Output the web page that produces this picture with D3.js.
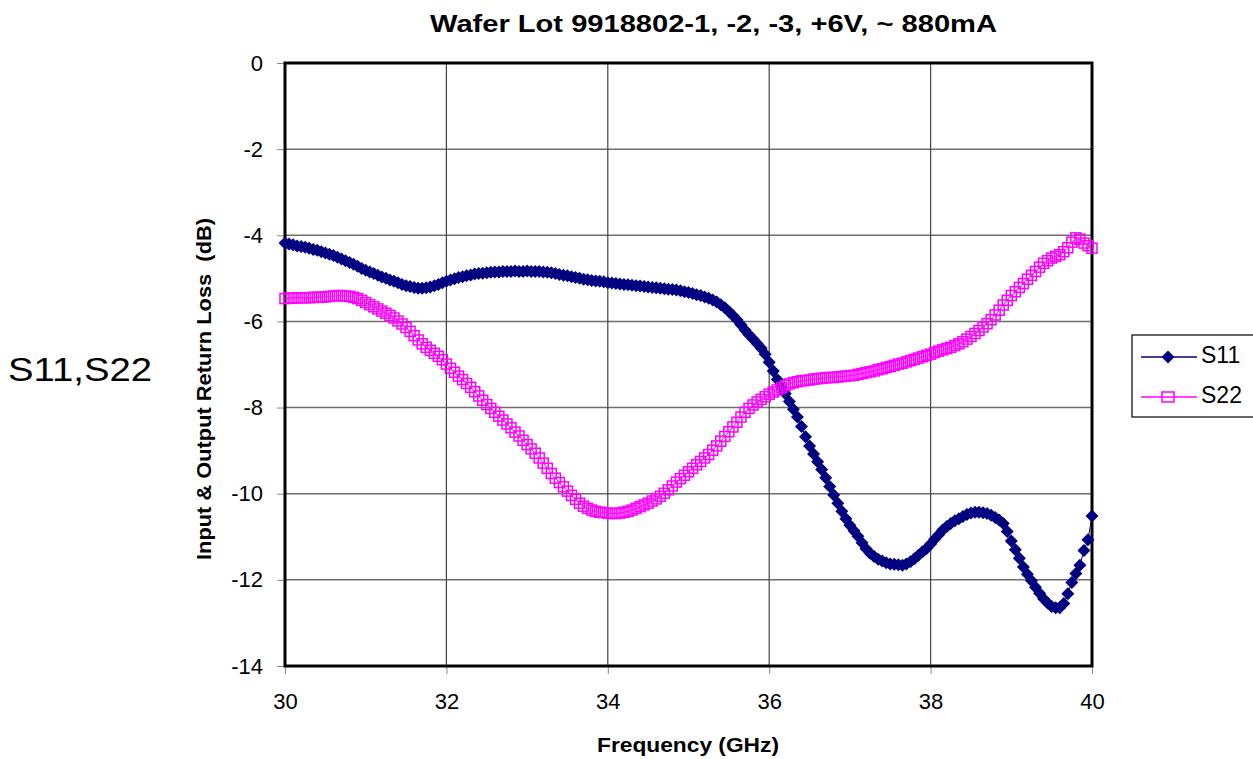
<!DOCTYPE html>
<html>
<head>
<meta charset="utf-8">
<script src="https://cdn.jsdelivr.net/npm/d3@7"></script>
<style>
  body { margin: 0; background: #fff; }
  svg text { font-family: Arial, "Liberation Sans", sans-serif; }
</style>
</head>
<body>
<script>
// frequency sweep 30..40 GHz, 0.05 GHz step (201 points)
const freqStart = 30, freqStep = 0.05
const freqs = d3.range(201).map(i => +(freqStart + i * freqStep).toFixed(2))

// one row per GHz (20 points each), last value at 40 GHz
const s11 = [
  -4.18,-4.20,-4.22,-4.25,-4.26,-4.28,-4.30,-4.33,-4.35,-4.38,-4.41,-4.44,-4.47,-4.51,-4.55,-4.59,-4.63,-4.67,-4.72,-4.77,
  -4.81,-4.85,-4.89,-4.93,-4.97,-5.00,-5.04,-5.07,-5.10,-5.14,-5.17,-5.19,-5.21,-5.23,-5.23,-5.22,-5.20,-5.17,-5.14,-5.10,
  -5.07,-5.04,-5.01,-4.98,-4.96,-4.94,-4.92,-4.90,-4.89,-4.88,-4.87,-4.86,-4.85,-4.85,-4.84,-4.84,-4.84,-4.83,-4.84,-4.84,
  -4.83,-4.84,-4.84,-4.84,-4.85,-4.86,-4.87,-4.89,-4.91,-4.93,-4.94,-4.96,-4.98,-5.00,-5.02,-5.03,-5.05,-5.06,-5.07,-5.08,
  -5.10,-5.11,-5.12,-5.13,-5.14,-5.15,-5.16,-5.17,-5.18,-5.19,-5.20,-5.21,-5.22,-5.23,-5.24,-5.25,-5.26,-5.27,-5.29,-5.31,
  -5.33,-5.35,-5.38,-5.40,-5.43,-5.46,-5.50,-5.55,-5.61,-5.68,-5.77,-5.86,-5.96,-6.08,-6.20,-6.31,-6.41,-6.51,-6.62,-6.76,
  -6.95,-7.15,-7.35,-7.52,-7.68,-7.86,-8.04,-8.22,-8.44,-8.68,-8.89,-9.08,-9.26,-9.44,-9.63,-9.83,-10.03,-10.22,-10.41,-10.58,
  -10.73,-10.86,-10.99,-11.14,-11.28,-11.38,-11.46,-11.52,-11.56,-11.60,-11.63,-11.64,-11.65,-11.66,-11.63,-11.58,-11.51,-11.43,-11.35,-11.27,
  -11.17,-11.06,-10.95,-10.84,-10.76,-10.69,-10.63,-10.58,-10.53,-10.48,-10.45,-10.43,-10.43,-10.44,-10.46,-10.50,-10.55,-10.61,-10.69,-10.88,
  -11.10,-11.30,-11.50,-11.70,-11.87,-12.02,-12.17,-12.31,-12.44,-12.54,-12.62,-12.65,-12.65,-12.55,-12.32,-12.06,-11.85,-11.66,-11.32,-11.07,
  -10.52
]
const s22 = [
  -5.47,-5.46,-5.46,-5.45,-5.45,-5.45,-5.45,-5.44,-5.44,-5.44,-5.43,-5.42,-5.41,-5.40,-5.40,-5.41,-5.42,-5.44,-5.47,-5.51,
  -5.56,-5.61,-5.66,-5.71,-5.76,-5.81,-5.86,-5.92,-5.99,-6.06,-6.14,-6.23,-6.33,-6.43,-6.52,-6.60,-6.67,-6.74,-6.81,-6.89,
  -6.99,-7.09,-7.18,-7.27,-7.35,-7.44,-7.53,-7.63,-7.73,-7.83,-7.93,-8.02,-8.11,-8.20,-8.29,-8.38,-8.47,-8.57,-8.66,-8.76,
  -8.86,-8.96,-9.06,-9.17,-9.29,-9.41,-9.53,-9.64,-9.74,-9.84,-9.94,-10.04,-10.13,-10.22,-10.29,-10.34,-10.38,-10.41,-10.43,-10.44,
  -10.45,-10.46,-10.46,-10.45,-10.43,-10.41,-10.38,-10.34,-10.30,-10.26,-10.22,-10.17,-10.12,-10.06,-9.99,-9.91,-9.82,-9.73,-9.65,-9.57,
  -9.49,-9.41,-9.33,-9.25,-9.17,-9.09,-8.99,-8.89,-8.78,-8.67,-8.56,-8.45,-8.34,-8.22,-8.11,-8.02,-7.94,-7.87,-7.81,-7.75,
  -7.69,-7.64,-7.59,-7.54,-7.49,-7.45,-7.42,-7.40,-7.38,-7.37,-7.36,-7.34,-7.33,-7.32,-7.31,-7.30,-7.30,-7.29,-7.28,-7.27,
  -7.26,-7.25,-7.23,-7.21,-7.19,-7.17,-7.15,-7.12,-7.10,-7.07,-7.05,-7.02,-6.99,-6.97,-6.94,-6.91,-6.88,-6.85,-6.82,-6.79,
  -6.76,-6.72,-6.69,-6.66,-6.63,-6.60,-6.56,-6.52,-6.47,-6.41,-6.35,-6.28,-6.21,-6.13,-6.05,-5.96,-5.85,-5.74,-5.62,-5.51,
  -5.40,-5.31,-5.21,-5.12,-5.02,-4.93,-4.84,-4.74,-4.65,-4.59,-4.53,-4.49,-4.45,-4.38,-4.29,-4.16,-4.06,-4.09,-4.18,-4.24,
  -4.30
]

const xTicks = [30, 32, 34, 36, 38, 40]
const yTicks = [0, -2, -4, -6, -8, -10, -12, -14]
const seriesNames = ['S11', 'S22']

const W = 1253, H = 759
const mLeft = 285, mRight = 1092, mTop = 63, mBottom = 666

const svg = d3.select('body').append('svg')
  .attr('width', W)
  .attr('height', H)

const x = d3.scaleLinear().domain([30, 40]).range([mLeft, mRight])
const y = d3.scaleLinear().domain([-14, 0]).range([mBottom, mTop])

// grid
svg.append('g')
  .selectAll('line')
  .data(yTicks.slice(1, -1))
  .enter().append('line')
  .attr('x1', mLeft).attr('x2', mRight)
  .attr('y1', d => y(d)).attr('y2', d => y(d))
  .attr('stroke', '#6e6e6e')
  .attr('stroke-width', 1.5)

svg.append('g')
  .selectAll('line')
  .data(xTicks.slice(1, -1))
  .enter().append('line')
  .attr('y1', mTop).attr('y2', mBottom)
  .attr('x1', d => x(d)).attr('x2', d => x(d))
  .attr('stroke', '#444')
  .attr('stroke-width', 1.2)

// axes (plain hyphen for negatives, like the original)
const yAxis = d3.axisLeft(y).tickValues(yTicks).tickSize(8).tickPadding(14).tickFormat(d => String(d))
const xAxis = d3.axisBottom(x).tickValues(xTicks).tickSize(8).tickPadding(19).tickFormat(d => String(d))

const gy = svg.append('g').attr('transform', 'translate(' + mLeft + ',0)').call(yAxis)
const gx = svg.append('g').attr('transform', 'translate(0,' + mBottom + ')').call(xAxis)
gy.select('.domain').remove()
gx.select('.domain').remove()
gy.selectAll('.tick line').attr('stroke', '#888')
gx.selectAll('.tick line').attr('stroke', '#888')
gy.selectAll('text').style('font-size', '22px').attr('fill', '#000').attr('font-family', 'Arial, Liberation Sans')
gx.selectAll('text').style('font-size', '22px').attr('fill', '#000').attr('font-family', 'Arial, Liberation Sans')

// plot frame
svg.append('rect')
  .attr('x', mLeft).attr('y', mTop)
  .attr('width', mRight - mLeft).attr('height', mBottom - mTop)
  .attr('fill', 'none')
  .attr('stroke', '#000')
  .attr('stroke-width', 3)

// series
const diamond = r => 'M0,' + (-r) + 'L' + r + ',0L0,' + r + 'L' + (-r) + ',0Z'
const line = d3.line()

const pts11 = freqs.map((f, i) => [x(f), y(s11[i])])
const pts22 = freqs.map((f, i) => [x(f), y(s22[i])])

svg.append('path')
  .attr('d', line(pts11))
  .attr('fill', 'none')
  .attr('stroke', '#000080')
  .attr('stroke-width', 1)

svg.append('g')
  .selectAll('path')
  .data(pts11)
  .enter().append('path')
  .attr('transform', d => 'translate(' + d[0] + ',' + d[1] + ')')
  .attr('d', diamond(6.5))
  .attr('fill', '#000080')

svg.append('path')
  .attr('d', line(pts22))
  .attr('fill', 'none')
  .attr('stroke', '#ff00ff')
  .attr('stroke-width', 1)

svg.append('g')
  .selectAll('rect')
  .data(pts22)
  .enter().append('rect')
  .attr('x', d => d[0] - 5)
  .attr('y', d => d[1] - 5)
  .attr('width', 10)
  .attr('height', 10)
  .attr('fill', 'none')
  .attr('stroke', '#ff00ff')
  .attr('stroke-width', 1.5)

// titles
svg.append('text')
  .attr('x', 430).attr('y', 32)
  .attr('textLength', 567)
  .attr('lengthAdjust', 'spacingAndGlyphs')
  .style('font-size', '24px')
  .style('font-weight', 'bold')
  .text('Wafer Lot 9918802-1, -2, -3, +6V, ~ 880mA')

svg.append('text')
  .attr('x', 597).attr('y', 752)
  .attr('textLength', 182)
  .attr('lengthAdjust', 'spacingAndGlyphs')
  .style('font-size', '20px')
  .style('font-weight', 'bold')
  .text('Frequency (GHz)')

svg.append('text')
  .attr('transform', 'translate(211,560) rotate(-90)')
  .attr('textLength', 342)
  .attr('lengthAdjust', 'spacingAndGlyphs')
  .style('font-size', '20px')
  .style('font-weight', 'bold')
  .style('white-space', 'pre')
  .text('Input & Output Return Loss  (dB)')

svg.append('text')
  .attr('x', 8).attr('y', 381)
  .attr('textLength', 144)
  .attr('lengthAdjust', 'spacingAndGlyphs')
  .style('font-size', '34px')
  .text('S11,S22')

// legend
const legend = svg.append('g')
legend.append('rect')
  .attr('x', 1132).attr('y', 335)
  .attr('width', 130).attr('height', 82)
  .attr('fill', '#fff')
  .attr('stroke', '#000')
  .attr('stroke-width', 1.2)

seriesNames.forEach((name, i) => {
  const ly = 357 + i * 40
  const col = i == 0 ? '#000080' : '#ff00ff'
  legend.append('line')
    .attr('x1', 1141).attr('x2', 1197)
    .attr('y1', ly).attr('y2', ly)
    .attr('stroke', col).attr('stroke-width', 1.5)
  if (i == 0) {
    legend.append('path')
      .attr('transform', 'translate(1168,' + ly + ')')
      .attr('d', diamond(6.5))
      .attr('fill', col)
  } else {
    legend.append('rect')
      .attr('x', 1162).attr('y', ly - 5)
      .attr('width', 12).attr('height', 10)
      .attr('fill', 'none')
      .attr('stroke', col).attr('stroke-width', 1.5)
  }
  legend.append('text')
    .attr('x', 1201).attr('y', ly + 6)
    .style('font-size', '23px')
    .text(name)
})
</script>
</body>
</html>
